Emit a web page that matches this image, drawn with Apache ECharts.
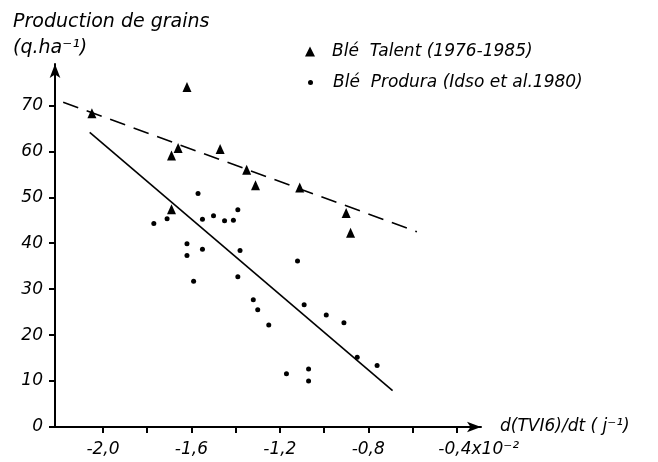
<!DOCTYPE html>
<html>
<head>
<meta charset="utf-8">
<script src="https://cdn.jsdelivr.net/npm/echarts@6/dist/echarts.min.js"></script>
<style>
  html, body { margin: 0; padding: 0; background: #fff; }
  #main { width: 658px; height: 462px; }
</style>
</head>
<body>
<div id="main"></div>
<script>
// Blé Talent (1976-1985) : triangles
var talent = [
  [-2.05, 68.3], [-1.62, 74.0], [-1.66, 60.7], [-1.69, 59.1], [-1.47, 60.5],
  [-1.35, 56.0], [-1.31, 52.6], [-1.69, 47.4], [-1.11, 52.1], [-0.90, 46.6],
  [-0.88, 42.3]
];
// Blé Produra (Idso et al. 1980) : points
var produra = [
  [-1.57, 50.8], [-1.77, 44.3], [-1.71, 45.3], [-1.55, 45.2], [-1.50, 46.0],
  [-1.45, 44.9], [-1.41, 45.0], [-1.39, 47.3], [-1.62, 39.9], [-1.62, 37.3],
  [-1.55, 38.7], [-1.38, 38.4], [-1.59, 31.7], [-1.39, 32.7], [-1.12, 36.1],
  [-1.32, 27.7], [-1.30, 25.5], [-1.25, 22.2], [-1.09, 26.6], [-0.99, 24.4],
  [-0.91, 22.7], [-0.85, 15.2], [-0.76, 13.4], [-1.07, 12.6], [-1.07, 10.0],
  [-1.17, 11.6]
];
// droites de régression
var lineTalent = [[-2.18, 70.7], [-0.58, 42.5]];
var lineProdura = [[-2.06, 64.1], [-0.69, 7.9]];

var xTicks = [-2.0, -1.8, -1.6, -1.4, -1.2, -1.0, -0.8, -0.6, -0.4];
var xLabels = [-2.0, -1.6, -1.2, -0.8, -0.4];
var yTicks = [0, 10, 20, 30, 40, 50, 60, 70];

var nameTalent = 'Blé  Talent (1976-1985)';
var nameProdura = 'Blé  Produra (Idso et al.1980)';

var font = 'DejaVu Sans';
var myChart = echarts.init(document.getElementById('main'));

function fmtX(v) {
  var s = v.toFixed(1).replace('.', ',');
  if (Math.abs(v + 0.4) < 1e-6) return '{pad|}' + s + 'x10⁻²';
  return s;
}

var option = {
  animation: false,
  backgroundColor: '#fff',
  title: {
    text: 'Production de grains\n(q.ha⁻¹)',
    left: 8,
    top: 4,
    textStyle: {
      fontFamily: font, fontStyle: 'italic', fontWeight: 'normal',
      fontSize: 19, color: '#000', lineHeight: 26
    }
  },
  legend: [{
    data: [nameTalent],
    left: 300, top: 38,
    itemWidth: 10, itemHeight: 10,
    textStyle: { fontFamily: font, fontStyle: 'italic', fontSize: 17, color: '#000', padding: [0, 0, 0, 12] }
  }, {
    data: [nameProdura],
    left: 303, top: 69,
    itemWidth: 5, itemHeight: 5,
    textStyle: { fontFamily: font, fontStyle: 'italic', fontSize: 17, color: '#000', padding: [0, 0, 0, 15] }
  }],
  grid: { left: 55, right: 177, top: 64, bottom: 35 },
  xAxis: {
    type: 'value',
    min: -2.217,
    max: -0.29,
    name: 'd(TVI6)/dt ( j⁻¹)',
    nameLocation: 'end',
    nameGap: 19,
    nameTextStyle: { fontFamily: font, fontStyle: 'italic', fontSize: 17, color: '#000' },
    splitLine: { show: false },
    axisLine: {
      onZero: false,
      symbol: ['none', 'arrow'],
      symbolSize: [8, 14],
      lineStyle: { color: '#000', width: 2 }
    },
    axisTick: {
      customValues: xTicks, length: 6,
      lineStyle: { color: '#000', width: 2 }
    },
    axisLabel: {
      customValues: xLabels,
      margin: 14,
      fontFamily: font, fontStyle: 'italic', fontSize: 17, color: '#000',
      formatter: fmtX,
      rich: {
        pad: { width: 44 }
      }
    }
  },
  yAxis: {
    type: 'value',
    min: 0,
    max: 79,
    splitLine: { show: false },
    axisLine: {
      onZero: false,
      symbol: ['none', 'arrow'],
      symbolSize: [8, 14],
      lineStyle: { color: '#000', width: 2 }
    },
    axisTick: {
      customValues: yTicks, length: 6,
      lineStyle: { color: '#000', width: 2 }
    },
    axisLabel: {
      customValues: yTicks,
      margin: 12,
      fontFamily: font, fontStyle: 'italic', fontSize: 17, color: '#000'
    }
  },
  series: [{
    name: nameTalent,
    type: 'scatter',
    symbol: 'triangle',
    symbolSize: [9, 10],
    itemStyle: { color: '#000', opacity: 1 },
    data: talent,
    z: 5
  }, {
    name: nameProdura,
    type: 'scatter',
    symbol: 'circle',
    symbolSize: 5,
    itemStyle: { color: '#000', opacity: 1 },
    data: produra,
    z: 5
  }, {
    name: 'régression Talent',
    type: 'line',
    showSymbol: false,
    symbol: 'none',
    lineStyle: { color: '#000', width: 1.6, type: [16, 9] },
    data: lineTalent
  }, {
    name: 'régression Produra',
    type: 'line',
    showSymbol: false,
    symbol: 'none',
    lineStyle: { color: '#000', width: 1.6 },
    data: lineProdura
  }]
};
myChart.setOption(option);
</script>
</body>
</html>
